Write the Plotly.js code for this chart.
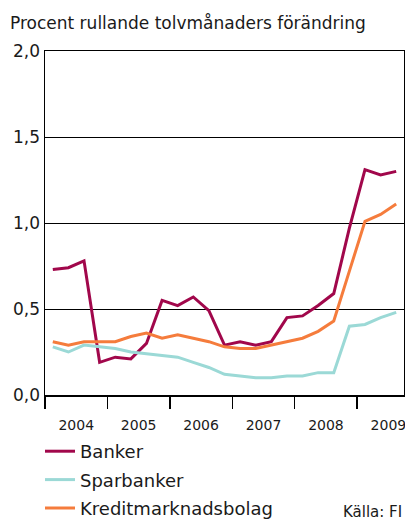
<!DOCTYPE html>
<html>
<head>
<meta charset="utf-8">
<script src="https://cdn.plot.ly/plotly-3.0.1.min.js"></script>
<style>html,body{margin:0;padding:0;background:#fff;}#chart{width:405px;height:520px;}</style>
</head>
<body>
<div id="chart"></div>
<script>
// Quarterly observations, 2004 Q1 – 2009 Q3
const quarters = ["2004K1","2004K2","2004K3","2004K4","2005K1","2005K2","2005K3","2005K4",
  "2006K1","2006K2","2006K3","2006K4","2007K1","2007K2","2007K3","2007K4",
  "2008K1","2008K2","2008K3","2008K4","2009K1","2009K2","2009K3"];
const banker = [0.73,0.74,0.78,0.19,0.22,0.21,0.30,0.55,0.52,0.57,0.49,0.29,0.31,0.29,0.31,0.45,0.46,0.52,0.59,0.97,1.31,1.28,1.30];
const sparbanker = [0.28,0.25,0.29,0.28,0.27,0.25,0.24,0.23,0.22,0.19,0.16,0.12,0.11,0.10,0.10,0.11,0.11,0.13,0.13,0.40,0.41,0.45,0.48];
const kredit = [0.31,0.29,0.31,0.31,0.31,0.34,0.36,0.33,0.35,0.33,0.31,0.28,0.27,0.27,0.29,0.31,0.33,0.37,0.43,0.72,1.01,1.05,1.11];
const seriesNames = ["Banker","Sparbanker","Kreditmarknadsbolag"];
const yearLabels = ["2004","2005","2006","2007","2008","2009"];
const yTicks = [0,0.5,1.0,1.5,2.0];

// quarter label -> decimal position at mid-quarter
const xPos = quarters.map(q => +q.slice(0,4) + (+q.slice(5) - 0.5)/4);
const yearBounds = yearLabels.map(y => +y);
const yearMids = yearLabels.map(y => +y + 0.5);

const FONT = "DejaVu Sans";
const colors = ["#A1074B","#9BD9D6","#F57C3C"];
const data = [banker, sparbanker, kredit].map((v,i) => ({
  x: xPos, y: v, type: "scatter", mode: "lines", name: seriesNames[i], legendgroup: "g" + i,
  line: {color: colors[i], width: 3}
}));
// helper invisible trace for the label axis
data.push({x: [yearMids[0]], y: [0], xaxis: "x2", mode: "markers", marker:{opacity:0}, showlegend:false, hoverinfo:"skip"});

const PH = 344, PW = 359;
const layout = {
  width: 405, height: 520,
  margin: {l: 45, r: 1, t: 51, b: 125, autoexpand: false},
  paper_bgcolor: "#fff", plot_bgcolor: "#fff",
  separators: ", ",
  font: {family: FONT, color: "#1a1a1a"},
  showlegend: true,
  title: {text: "Procent rullande tolvmånaders förändring", font: {family: FONT, size: 17, color: "#1a1a1a"},
          x: 10/405, xref: "container", xanchor: "left", y: 1 - 23/520, yref: "container", yanchor: "middle"},
  xaxis: {range: [2004, 2009.75], tickvals: yearBounds, ticks: "outside", ticklen: 12, tickwidth: 1.5,
          tickcolor: "#000", showticklabels: false, showgrid: false, zeroline: false,
          showline: true, linecolor: "#000", linewidth: 1.5, mirror: true},
  xaxis2: {range: [2004, 2009.75], overlaying: "x", side: "bottom", tickvals: yearMids, ticktext: yearLabels,
           ticks: "outside", ticklen: 17, tickcolor: "rgba(0,0,0,0)", showgrid: false, zeroline: false,
           showline: false, ticklabeloverflow: "allow", tickfont: {family: FONT, size: 14, color: "#1a1a1a"}},
  yaxis: {range: [0, 2.0], tickvals: yTicks, tickformat: ".1f", ticks: "", showgrid: true, gridcolor: "#000",
          gridwidth: 1, zeroline: false, showline: true, linecolor: "#000", linewidth: 1.5, mirror: true,
          tickfont: {family: FONT, size: 17, color: "#1a1a1a"}},
  legend: {x: -5/PW, xanchor: "left", y: -(433-395)/PH, yanchor: "top", orientation: "v",
           font: {family: FONT, size: 18, color: "#1a1a1a"}, bgcolor: "rgba(0,0,0,0)", tracegroupgap: 2},
  annotations: [{text: "Källa: FI", xref: "paper", yref: "paper", x: 1, y: -(512-395)/PH, xanchor: "right",
                 yanchor: "middle", showarrow: false, font: {family: FONT, size: 15, color: "#1a1a1a"}}]
};
Plotly.newPlot("chart", data, layout, {displayModeBar: false, staticPlot: true});
</script>
</body>
</html>
